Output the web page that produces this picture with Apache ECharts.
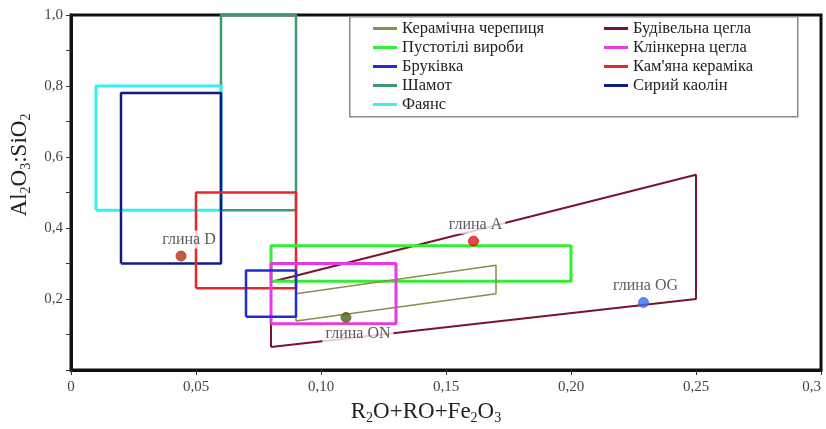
<!DOCTYPE html>
<html>
<head>
<meta charset="utf-8">
<script src="https://cdn.jsdelivr.net/npm/echarts@6/dist/echarts.min.js"></script>
<style>
  html, body { margin: 0; padding: 0; background: #fff; }
  #chart { width: 826px; height: 429px; }
</style>
</head>
<body>
<div id="chart"></div>
<script>
var xTickLabels = ['0', '0,05', '0,10', '0,15', '0,20', '0,25', '0,3'];
var yTickLabels = ['', '0,2', '0,4', '0,6', '0,8', '1,0'];

// прямокутні області: [xmin, xmax, ymin, ymax]
var pustotili = [0.08, 0.20, 0.25, 0.35];
var brukivka = [0.07, 0.09, 0.15, 0.28];
var shamot = [0.06, 0.09, 0.45, 1.0];
var fayans = [0.01, 0.06, 0.45, 0.80];
var klinker = [0.08, 0.13, 0.13, 0.30];
var kamyana = [0.05, 0.09, 0.23, 0.50];
var kaolin = [0.02, 0.06, 0.30, 0.78];

// багатокутники
var cherepytsia = [[0.09, 0.138], [0.17, 0.215], [0.17, 0.295], [0.09, 0.215], [0.09, 0.138]];
var budivelna = [[0.08, 0.065], [0.25, 0.20], [0.25, 0.55], [0.08, 0.248], [0.08, 0.065]];

// зразки глин
var clayNames = ['глина D', 'глина A', 'глина ON', 'глина OG'];
var clayX = [0.044, 0.161, 0.11, 0.229];
var clayY = [0.321, 0.363, 0.148, 0.19];

var serif = 'Liberation Serif';

function box(b) {
    return [[b[0], b[2]], [b[1], b[2]], [b[1], b[3]], [b[0], b[3]], [b[0], b[2]]];
}

function zone(name, data, color, width) {
    return {
        name: name,
        type: 'line',
        data: data,
        color: color,
        symbol: 'none',
        silent: true,
        clip: false,
        lineStyle: { color: color, width: width }
    };
}

var myChart = echarts.init(document.getElementById('chart'));

var clayColors = ['#b8321c', '#e01818', '#3c6a18', '#3f6ee8'];
var clayLabelPos = [
    { position: 'top', offset: [8, 0] },
    { position: 'top', offset: [2, 0] },
    { position: 'bottom', offset: [12, 0] },
    { position: 'top', offset: [2, 0] }
];

var clayData = clayNames.map(function (n, i) {
    return {
        name: n,
        value: [clayX[i], clayY[i]],
        itemStyle: { color: clayColors[i], borderColor: i === 2 ? '#8a4a20' : clayColors[i], borderWidth: 1 },
        label: clayLabelPos[i]
    };
});

var legendText = { fontFamily: serif, fontSize: 16.5, color: '#222', lineHeight: 16 };

option = {
    animation: false,
    backgroundColor: '#fff',
    grid: {
        left: 71,
        right: 5,
        top: 15,
        bottom: 59,
        outerBoundsMode: 'none',
        show: true,
        borderColor: '#111',
        borderWidth: 3
    },
    graphic: [{
        type: 'rect',
        left: 349,
        top: 16,
        z: 3,
        shape: { width: 448, height: 100 },
        style: { fill: '#fff', stroke: '#8a8a8a', lineWidth: 1.5 }
    }],
    legend: [{
        left: 368,
        top: 15,
        orient: 'vertical',
        icon: 'rect',
        itemWidth: 24,
        itemHeight: 3,
        itemGap: 2,
        textStyle: legendText,
        data: ['Керамічна черепиця', 'Пустотілі вироби', 'Бруківка', 'Шамот', 'Фаянс']
    }, {
        left: 599,
        top: 15,
        orient: 'vertical',
        icon: 'rect',
        itemWidth: 24,
        itemHeight: 3,
        itemGap: 2,
        textStyle: legendText,
        data: ['Будівельна цегла', 'Клінкерна цегла', "Кам'яна кераміка", 'Сирий каолін']
    }],
    xAxis: {
        type: 'value',
        min: 0,
        max: 0.3,
        interval: 0.05,
        name: '{n|R}{s|2}{n|O+RO+Fe}{s|2}{n|O}{s|3}',
        nameLocation: 'middle',
        nameGap: 29,
        nameTextStyle: {
            padding: [0, 40, 0, 0],
            rich: {
                n: { fontFamily: serif, fontSize: 23, color: '#222', lineHeight: 26 },
                s: { fontFamily: serif, fontSize: 14, color: '#222', lineHeight: 26, verticalAlign: 'bottom' }
            }
        },
        axisLine: { lineStyle: { color: '#111', width: 3 } },
        axisTick: { length: 5, lineStyle: { color: '#333', width: 1 } },
        splitLine: { show: false },
        axisLabel: {
            margin: 10,
            fontFamily: serif,
            fontSize: 15,
            color: '#444',
            alignMaxLabel: 'right',
            formatter: function (v) { return xTickLabels[Math.round(v / 0.05)]; }
        }
    },
    yAxis: {
        type: 'value',
        min: 0,
        max: 1,
        interval: 0.2,
        name: '{n|Al}{s|2}{n|O}{s|3}{n|:SiO}{s|2}',
        nameLocation: 'middle',
        nameGap: 37,
        nameRotate: 90,
        nameTextStyle: {
            padding: [0, 0, 0, 55],
            rich: {
                n: { fontFamily: serif, fontSize: 23, color: '#222', lineHeight: 26 },
                s: { fontFamily: serif, fontSize: 14, color: '#222', lineHeight: 26, verticalAlign: 'bottom' }
            }
        },
        axisLine: { show: true, lineStyle: { color: '#111', width: 3 } },
        axisTick: { show: true, length: 5, lineStyle: { color: '#333', width: 1 } },
        minorTick: { show: true, splitNumber: 2, length: 5, lineStyle: { color: '#333', width: 1 } },
        splitLine: { show: false },
        axisLabel: {
            margin: 8,
            fontFamily: serif,
            fontSize: 15,
            color: '#444',
            formatter: function (v) { return yTickLabels[Math.round(v / 0.2)]; }
        }
    },
    series: [
        zone('Будівельна цегла', budivelna, '#7a1428', 2),
        zone('Шамот', box(shamot), '#3d9a6e', 2.5),
        zone('Фаянс', box(fayans), '#36f0f0', 3),
        zone('Сирий каолін', box(kaolin), '#101c82', 2.5),
        zone("Кам'яна кераміка", box(kamyana), '#e82828', 2.5),
        zone('Пустотілі вироби', box(pustotili), '#33ee33', 3),
        zone('Керамічна черепиця', cherepytsia, '#8f8a4e', 1.5),
        zone('Клінкерна цегла', box(klinker), '#e838e8', 3),
        zone('Бруківка', box(brukivka), '#1f2fd0', 2.5),
        {
            name: 'глини',
            type: 'scatter',
            symbolSize: 10,
            z: 5,
            data: clayData,
            label: {
                show: true,
                formatter: '{b}',
                distance: 2,
                fontFamily: serif,
                fontSize: 16,
                color: '#333',
                backgroundColor: '#fff',
                padding: [1, 3]
            }
        }
    ]
};

myChart.setOption(option);
</script>
</body>
</html>
